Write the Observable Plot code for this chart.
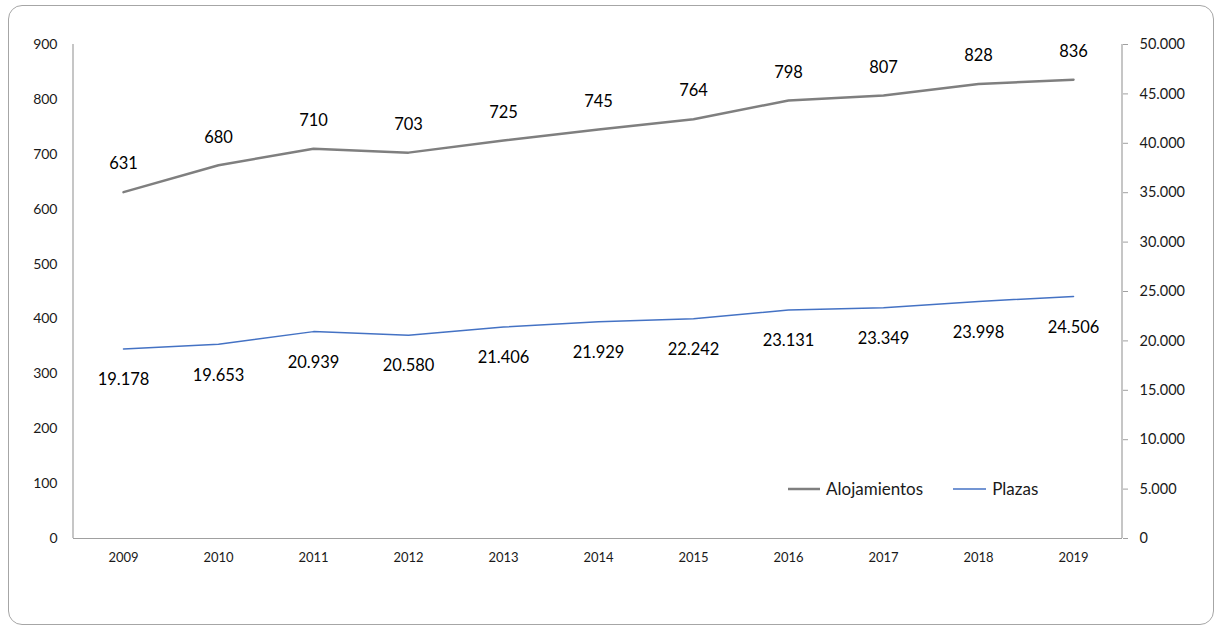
<!DOCTYPE html>
<html><head><meta charset="utf-8">
<script src="https://cdn.jsdelivr.net/npm/d3@7"></script>
<script src="https://cdn.jsdelivr.net/npm/@observablehq/plot@0.6"></script>
<style>
body{margin:0;background:#fff;font-family:Lato,"Open Sans",sans-serif}
#wrap{position:relative;width:1219px;height:628px;overflow:hidden;background:#fff}
#chart{position:absolute;left:0;top:0}
#frame{position:absolute;left:8px;top:5px;width:1206px;height:620px;border:1.5px solid #a6a6a6;border-radius:14px;box-sizing:border-box;pointer-events:none}
#legend{position:absolute;left:788px;top:478px;display:flex;align-items:center;font-size:17px;color:#1a1a1a;font-family:Lato,sans-serif}
#legend .item{display:flex;align-items:center;margin-right:30px}
#legend svg{margin-right:6px}
</style></head><body>
<div id="wrap"><div id="chart"></div><div id="legend"></div><div id="frame"></div></div>
<script>
const years = ["2009","2010","2011","2012","2013","2014","2015","2016","2017","2018","2019"];
const alojamientos = [631,680,710,703,725,745,764,798,807,828,836];
const plazas = [19178,19653,20939,20580,21406,21929,22242,23131,23349,23998,24506];
const leftTicks = [0,100,200,300,400,500,600,700,800,900];
const rightTicks = [0,5000,10000,15000,20000,25000,30000,35000,40000,45000,50000];
const seriesNames = ["Alojamientos","Plazas"];

const colorA = "#7f7f7f", colorP = "#4472c4", axisColor = "#a0a0a0";
const leftMax = leftTicks[leftTicks.length-1], rightMax = rightTicks[rightTicks.length-1];
const k = leftMax / rightMax;
const loc = d3.formatLocale({decimal:",", thousands:".", grouping:[3], currency:["",""]});
const fmt = loc.format(",d");

const dataA = years.map((y,i)=>({year:y, value:alojamientos[i]}));
const dataP = years.map((y,i)=>({year:y, value:plazas[i], scaled:plazas[i]*k}));

function edgeLine(side){
  return (index, scales, values, dim) => {
    const x = side === "left" ? dim.marginLeft : dim.width - dim.marginRight;
    const l = document.createElementNS("http://www.w3.org/2000/svg","line");
    l.setAttribute("x1", x); l.setAttribute("x2", x);
    l.setAttribute("y1", dim.marginTop); l.setAttribute("y2", dim.height - dim.marginBottom);
    l.setAttribute("stroke", axisColor); l.setAttribute("stroke-width", 1.2);
    return l;
  };
}

const chart = Plot.plot({
  width: 1219, height: 628,
  marginLeft: 73, marginRight: 97, marginTop: 44, marginBottom: 90,
  style: {fontFamily: "Lato, sans-serif", fontSize: "14px", color: "#1a1a1a", background: "transparent", overflow: "visible"},
  x: {type: "point", domain: years, padding: 0.5},
  y: {domain: [0, leftMax]},
  marks: [
    Plot.ruleY([0], {stroke: axisColor, strokeWidth: 1.2}),
    edgeLine("left"),
    edgeLine("right"),
    Plot.axisY(leftTicks, {anchor: "left", tickSize: 0, tickPadding: 16, fontSize: 14, label: null, fill: "#1a1a1a"}),
    Plot.axisY(rightTicks.map(v => v*k), {anchor: "right", tickSize: 5, tickPadding: 12, fontSize: 14.5, label: null,
      stroke: axisColor, fill: "#1a1a1a", tickFormat: v => fmt(Math.round(v / k))}),
    Plot.axisX({tickSize: 0, tickPadding: 14, fontSize: 13, label: null, fill: "#1a1a1a"}),
    Plot.line(dataA, {x: "year", y: "value", stroke: colorA, strokeWidth: 2.5}),
    Plot.line(dataP, {x: "year", y: "scaled", stroke: colorP, strokeWidth: 1.5}),
    Plot.text(dataA, {x: "year", y: "value", text: d => String(d.value), dy: -28, fontSize: 16.5, fill: "#000"}),
    Plot.text(dataP, {x: "year", y: "scaled", text: d => fmt(d.value), dy: 31, fontSize: 16.5, fill: "#000"})
  ]
});
document.getElementById("chart").appendChild(chart);

const legend = document.getElementById("legend");
[[seriesNames[0], colorA, 2.5, 32], [seriesNames[1], colorP, 1.5, 33]].forEach(([name, c, w, len]) => {
  const item = document.createElement("div"); item.className = "item";
  item.innerHTML = `<svg width="${len}" height="10"><line x1="0" x2="${len}" y1="5" y2="5" stroke="${c}" stroke-width="${w}"/></svg><span>${name}</span>`;
  legend.appendChild(item);
});
</script>
</body></html>
